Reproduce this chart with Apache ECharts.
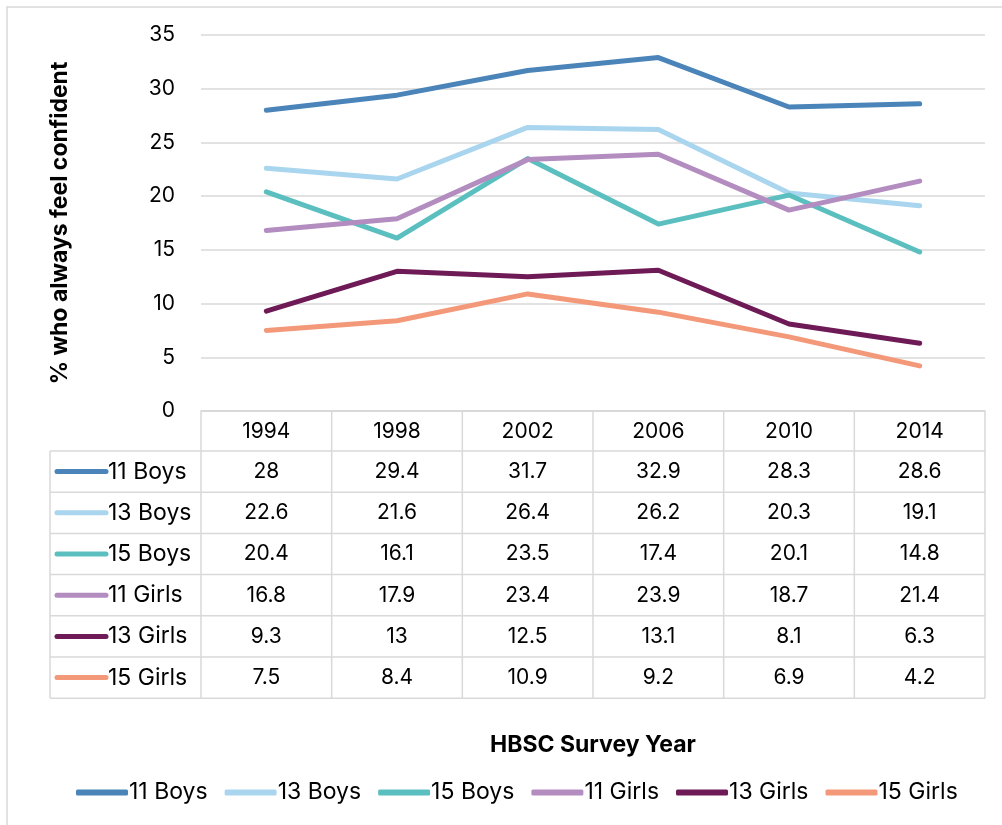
<!DOCTYPE html>
<html>
<head>
<meta charset="utf-8">
<script src="https://cdn.jsdelivr.net/npm/echarts@6/dist/echarts.min.js"></script>
<style>
  html, body { margin: 0; padding: 0; background: #fff; }
  #chart { width: 1002px; height: 825px; }
</style>
</head>
<body>
<div id="chart"></div>
<script>
const years = ['1994', '1998', '2002', '2006', '2010', '2014'];
const seriesNames = ['11 Boys', '13 Boys', '15 Boys', '11 Girls', '13 Girls', '15 Girls'];
const boys11 = [28, 29.4, 31.7, 32.9, 28.3, 28.6];
const boys13 = [22.6, 21.6, 26.4, 26.2, 20.3, 19.1];
const boys15 = [20.4, 16.1, 23.5, 17.4, 20.1, 14.8];
const girls11 = [16.8, 17.9, 23.4, 23.9, 18.7, 21.4];
const girls13 = [9.3, 13, 12.5, 13.1, 8.1, 6.3];
const girls15 = [7.5, 8.4, 10.9, 9.2, 6.9, 4.2];
const yTicks = [0, 5, 10, 15, 20, 25, 30, 35];

const values = [boys11, boys13, boys15, girls11, girls13, girls15];
const colors = ['#4a84b9', '#a9d5ef', '#5bbfc0', '#b38cc0', '#6e1a56', '#f3997a'];

const FONT = 'Inter, "Noto Sans", sans-serif';
const GRID_LINE = '#d9d9d9';
const NUM_SIZE = 21;
const WORD_SIZE = 23;
const TITLE_SIZE = 23;

const chart = echarts.init(document.getElementById('chart'), null, { renderer: 'canvas' });

chart.setOption({
  animation: false,
  backgroundColor: '#fff',
  textStyle: { fontFamily: FONT },
  grid: { left: 201, right: 17, top: 35, bottom: 414 },
  legend: {
    top: 776,
    left: 71,
    itemWidth: 52,
    itemHeight: 6,
    itemGap: 17,
    icon: 'roundRect',
    textStyle: { fontSize: WORD_SIZE, color: '#000', fontFamily: FONT, padding: [0, 0, 0, -4] },
    data: seriesNames,
  },
  xAxis: {
    type: 'category',
    data: years,
    boundaryGap: true,
    axisLine: { show: true, lineStyle: { color: GRID_LINE, width: 1.5 } },
    axisTick: { show: false },
    axisLabel: { show: false },
    name: 'HBSC Survey Year',
    nameLocation: 'middle',
    nameGap: 323,
    nameTextStyle: { fontSize: TITLE_SIZE, fontWeight: 'bold', color: '#000', fontFamily: FONT },
  },
  yAxis: {
    type: 'value',
    min: yTicks[0],
    max: yTicks[yTicks.length - 1],
    interval: 5,
    axisLine: { show: false },
    axisTick: { show: false },
    axisLabel: { fontSize: NUM_SIZE, color: '#000', margin: 26, fontFamily: FONT },
    splitLine: { lineStyle: { color: GRID_LINE, width: 1.5 } },
    name: '% who always feel confident',
    nameLocation: 'middle',
    nameGap: 129,
    nameTextStyle: { fontSize: TITLE_SIZE, fontWeight: 'bold', color: '#000', fontFamily: FONT },
  },
  series: seriesNames.map((name, i) => ({
    name,
    type: 'line',
    data: values[i],
    symbol: 'none',
    showSymbol: false,
    color: colors[i],
    lineStyle: { width: 5, color: colors[i], cap: 'round', join: 'round' },
    itemStyle: { color: colors[i] },
  })),
});

// data table under the plot, aligned with the category axis
function buildTable() {
  const centers = years.map((y) => chart.convertToPixel({ xAxisIndex: 0 }, y));
  const band = centers[1] - centers[0];
  const left = centers[0] - band / 2;
  const right = centers[centers.length - 1] + band / 2;
  const top = chart.convertToPixel({ yAxisIndex: 0 }, 0);
  const headH = 40;
  const rowH = 41.2;
  const labelLeft = 50;
  const bodyTop = top + headH;
  const bottom = bodyTop + rowH * seriesNames.length;
  const lineStyle = { stroke: GRID_LINE, lineWidth: 1.5 };
  const els = [];

  // frame of the whole chart
  els.push({ type: 'rect', shape: { x: 7, y: 7, width: 1020, height: 840 }, style: { fill: null, stroke: GRID_LINE, lineWidth: 1.5 }, silent: true });

  // horizontal lines
  els.push({ type: 'line', shape: { x1: left, y1: top, x2: right, y2: top }, style: lineStyle });
  for (let r = 0; r <= seriesNames.length; r++) {
    const y = bodyTop + r * rowH;
    els.push({ type: 'line', shape: { x1: labelLeft, y1: y, x2: right, y2: y }, style: lineStyle });
  }
  // vertical lines
  els.push({ type: 'line', shape: { x1: labelLeft, y1: bodyTop, x2: labelLeft, y2: bottom }, style: lineStyle });
  for (let c = 0; c <= years.length; c++) {
    const x = left + c * band;
    els.push({ type: 'line', shape: { x1: x, y1: top, x2: x, y2: bottom }, style: lineStyle });
  }
  // header
  years.forEach((y, c) => {
    els.push({
      type: 'text',
      x: centers[c],
      y: top + headH / 2 + 1,
      style: { text: y, fontSize: NUM_SIZE, fontFamily: FONT, fill: '#000', align: 'center', verticalAlign: 'middle' },
    });
  });
  // rows
  seriesNames.forEach((name, r) => {
    const cy = bodyTop + r * rowH + rowH / 2;
    els.push({
      type: 'line',
      shape: { x1: 57, y1: cy, x2: 106, y2: cy },
      style: { stroke: colors[r], lineWidth: 5, lineCap: 'round' },
    });
    els.push({
      type: 'text',
      x: 108,
      y: cy,
      style: { text: name, fontSize: WORD_SIZE, fontFamily: FONT, fill: '#000', align: 'left', verticalAlign: 'middle' },
    });
    values[r].forEach((v, c) => {
      els.push({
        type: 'text',
        x: centers[c],
        y: cy,
        style: { text: String(v), fontSize: NUM_SIZE, fontFamily: FONT, fill: '#000', align: 'center', verticalAlign: 'middle' },
      });
    });
  });
  chart.setOption({ graphic: { elements: els } });
}

buildTable();
</script>
</body>
</html>
